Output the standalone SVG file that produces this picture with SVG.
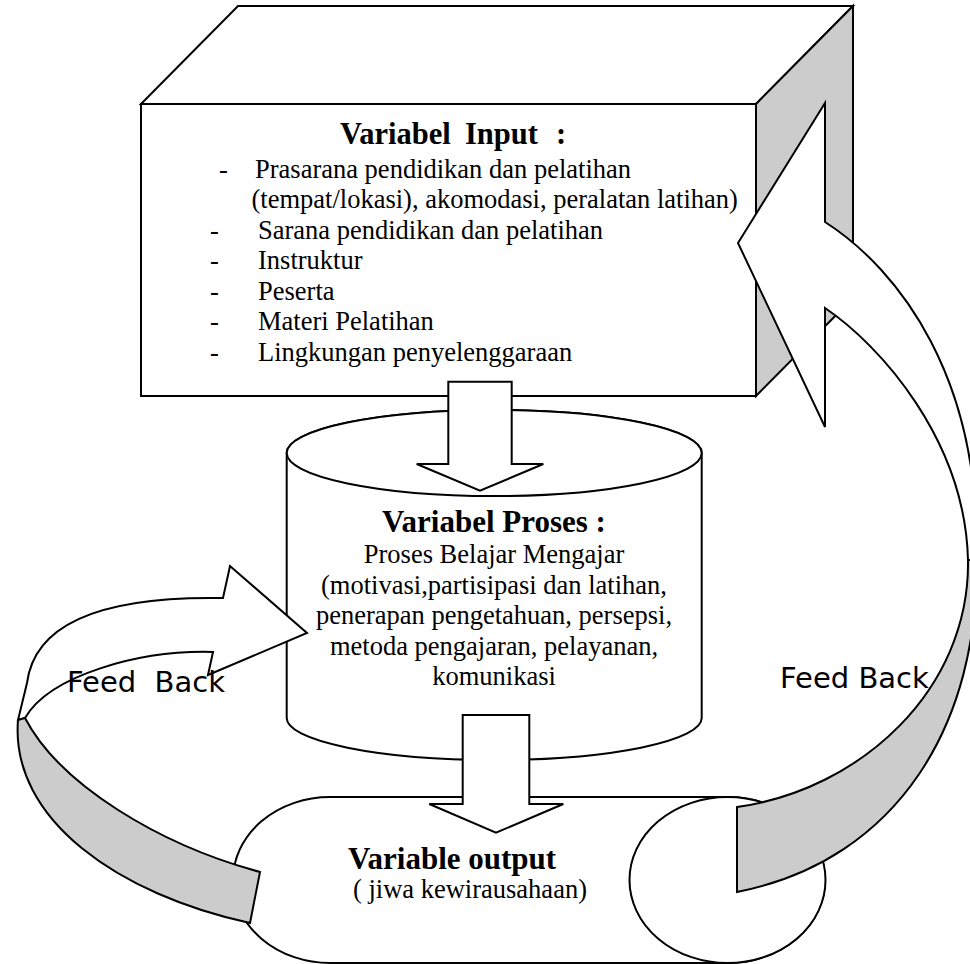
<svg xmlns="http://www.w3.org/2000/svg" width="970" height="964" viewBox="0 0 970 964">
<style>
.ln{stroke:#000;stroke-width:2;stroke-linejoin:miter}
.w{fill:#fff}
.g{fill:#cccccc}
.tr{font-family:'Liberation Serif','Times New Roman',serif;font-size:26.5px;fill:#000}
.tb{font-family:'Liberation Serif','Times New Roman',serif;font-weight:bold;fill:#000}
.fb{font-family:'Comic Sans MS','DejaVu Sans',sans-serif;font-size:29px;fill:#000;white-space:pre}
</style>
<rect width="970" height="964" fill="#fff"/>

<g id="input-box">
  <polygon class="ln w" points="141,104 238,6 853,6 756,104"/>
  <polygon class="ln g" points="756,104 853,6 853,298 756,396"/>
  <rect class="ln w" x="141" y="104" width="615" height="292"/>
  <text class="tb" font-size="30.5" y="143.5"><tspan x="340">Variabel</tspan><tspan x="465">Input</tspan><tspan x="556">:</tspan></text>
  <text class="tr" x="219" y="177.5">-</text>
  <text class="tr" x="255" y="177.5">Prasarana pendidikan dan pelatihan</text>
  <text class="tr" x="251.5" y="208">(tempat/lokasi), akomodasi, peralatan latihan)</text>
  <text class="tr" x="210" y="238.5">-</text>
  <text class="tr" x="258" y="238.5">Sarana pendidikan dan pelatihan</text>
  <text class="tr" x="210" y="269">-</text>
  <text class="tr" x="258" y="269">Instruktur</text>
  <text class="tr" x="210" y="299.5">-</text>
  <text class="tr" x="258" y="299.5">Peserta</text>
  <text class="tr" x="210" y="330">-</text>
  <text class="tr" x="258" y="330">Materi Pelatihan</text>
  <text class="tr" x="210" y="360.5">-</text>
  <text class="tr" x="258" y="360.5">Lingkungan penyelenggaraan</text>
</g>

<g id="process-cylinder">
  <path class="ln w" d="M286.7,453 L286.7,718 A207.5,42 0 0 0 701.7,718 L701.7,453 A207.5,43 0 0 0 286.7,453 Z"/>
  <ellipse class="ln w" cx="494.2" cy="453" rx="207.5" ry="43"/>
  <g text-anchor="middle">
    <text class="tb" font-size="31" x="494" y="531.5">Variabel Proses :</text>
    <text class="tr" x="494" y="563">Proses Belajar Mengajar</text>
    <text class="tr" x="494" y="593.5">(motivasi,partisipasi dan latihan,</text>
    <text class="tr" x="494" y="624">penerapan pengetahuan, persepsi,</text>
    <text class="tr" x="494" y="654.5">metoda pengajaran, pelayanan,</text>
    <text class="tr" x="494" y="685">komunikasi</text>
  </g>
</g>

<g id="output-terminator">
  <rect class="ln w" x="233" y="797" width="592" height="166" rx="97" ry="83"/>
  <ellipse class="ln w" cx="727.5" cy="880" rx="98" ry="83"/>
  <text class="tb" font-size="31" x="348" y="869">Variable output</text>
  <text class="tr" x="353" y="898">( jiwa kewirausahaan)</text>
</g>

<g id="connectors">
  <polygon class="ln w" points="448.3,381.7 511.7,381.7 511.7,464 543.3,464 480,490.7 416.7,464 448.3,464"/>
  <polygon class="ln w" points="462.7,715 529.3,715 529.3,804 563.3,804 496,832.7 429.3,804 462.7,804"/>
  <g id="feedback-left">
    <path class="ln w" d="M213,652 L208,675 L307,633 L230,566 L223,598 C110,596 35,620 27,683 L18,720 L25,718 C50,675 140,650 213,652 Z"/>
    <path class="ln g" d="M25,718 C60,785 160,845 260,872 L250,923 C120,895 10,820 18,720 Z"/>
    <text class="fb" x="67" y="692" xml:space="preserve">Feed  Back</text>
  </g>
  <g id="feedback-right">
    <path class="ln w" d="M825,308 L825,427 L738,243 L825,103 L825,222 C900,270 982,380 976,560 L968,560 C965,440 880,345 825,308 Z"/>
    <path class="ln g" d="M968,560 C970,690 860,790 737,807 L737,892 C900,860 980,720 976,560 Z"/>
    <text class="fb" x="780" y="688">Feed Back</text>
  </g>
</g>
</svg>
